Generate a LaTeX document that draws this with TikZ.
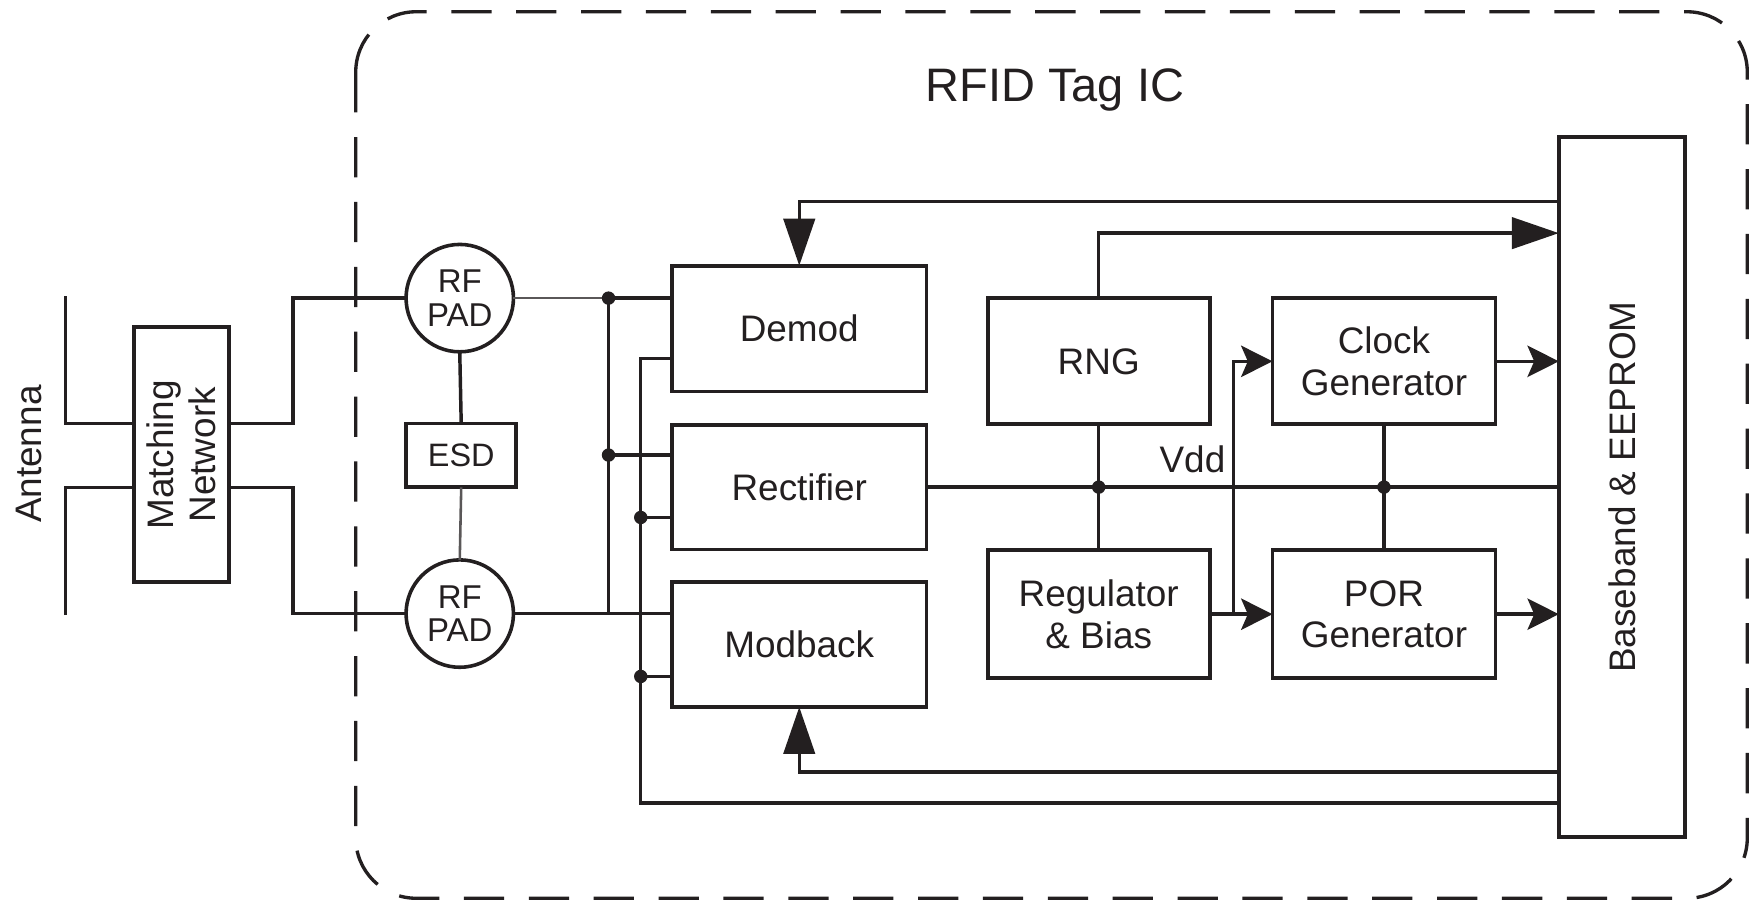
\documentclass[tikz,border=0pt]{standalone}
\usepackage{fontspec}
\setmainfont{Liberation Sans}
\usetikzlibrary{arrows.meta,calc}
\definecolor{ink}{HTML}{231F20}
\begin{document}
\begin{tikzpicture}[x=1pt,y=-1pt]
\tikzset{
 blk/.style={draw=ink, line width=3.4pt, inner sep=0pt, outer sep=0pt, font=\fontsize{33}{37}\selectfont, align=center, text=ink},
 padc/.style={circle, draw=ink, line width=3.2pt, inner sep=0pt, outer sep=0pt, minimum size=96pt, font=\fontsize{29.5}{30}\selectfont, align=center, text=ink},
 lbl/.style={inner sep=0pt, font=\fontsize{33}{37}\selectfont, align=center, text=ink},
 conn/.style={draw=ink, line width=3.1pt},
 thinconn/.style={draw=ink!75, line width=2.3pt},
 jdot/.style={circle, fill=ink, inner sep=0pt, minimum size=12pt},
 tri/.style={-{Triangle[length=42pt,width=28pt]}},
 stl/.style={-{Stealth[length=28pt,width=28pt,inset=6pt]}},
}
\useasboundingbox (0,0) rectangle (1568,807);

% IC boundary
\draw[ink, line width=3pt, dash pattern=on 36pt off 22pt, rounded corners=54pt] (318,10.5) rectangle (1562,803);
\node[lbl, font=\fontsize{42}{48}\selectfont] (title) at (943,80) {RFID Tag IC};

% blocks
\node[blk, minimum width=84.6pt, minimum height=228pt] (mn) at (162.1,406.6) {};
\node[lbl, rotate=90] (mntext) at (mn.center) {Matching\\Network};
\node[lbl, rotate=90] (ant) at (26,406) {Antenna};

\node[padc] (padA) at (411,266.5) {RF\\PAD};
\node[padc] (padB) at (411,548.5) {RF\\PAD};
\node[blk, minimum width=98pt, minimum height=57.2pt, font=\fontsize{29}{30}\selectfont] (esd) at (412.3,407.1) {ESD};

\node[blk, minimum width=227.4pt, minimum height=112.5pt] (demod) at (714.5,293.75) {Demod};
\node[blk, minimum width=227.4pt, minimum height=111.7pt] (rect) at (714.5,435.45) {Rectifier};
\node[blk, minimum width=227.4pt, minimum height=112pt] (modb) at (714.5,576) {Modback};

\node[blk, minimum width=198.4pt, minimum height=112.6pt] (rng) at (982.2,323) {RNG};
\node[blk, minimum width=198.4pt, minimum height=114.7pt] (reg) at (982.2,549.05) {Regulator\\\& Bias};
\node[blk, minimum width=199.4pt, minimum height=112.6pt] (clk) at (1237.2,323) {Clock\\Generator};
\node[blk, minimum width=199.4pt, minimum height=114.7pt] (por) at (1237.2,549.05) {POR\\Generator};

\node[blk, minimum width=113pt, minimum height=625.4pt] (bb) at (1450,435.3) {};
\node[lbl, rotate=90] (bbtext) at (bb.center) {Baseband \& EEPROM};

\node[lbl] (vdd) at (1066,411) {Vdd};

% helper coordinates
\coordinate (at1) at (58.5,265);
\coordinate (at2) at (58.5,549.8);
\coordinate (yA) at (0,378.5);
\coordinate (yB) at (0,436);
\coordinate (mx) at (261.8,0);
\coordinate (jx) at (544,0);
\coordinate (kx) at (572.8,0);
\coordinate (yR1) at (0,406.8);
\coordinate (yD2) at (0,320.6);
\coordinate (yR2) at (0,462.6);
\coordinate (yM2) at (0,604.7);
\coordinate (yTop) at (0,180.3);
\coordinate (yRng) at (0,208.4);
\coordinate (yMB) at (0,690);
\coordinate (yBot) at (0,718);
\coordinate (br) at (1102.8,549.05);

% antenna and matching network
\draw[conn] (at1) |- (mn.west |- yA);
\draw[conn] (at2) |- (mn.west |- yB);
\draw[conn] (mn.east |- yA) -| (mx |- padA.west) -- (padA.west);
\draw[conn] (mn.east |- yB) -| (mx |- padB.west) -- (padB.west);

% pads and ESD
\draw[conn] (padA.south) -- (esd.north);
\draw[thinconn] (esd.south) -- (padB.north);

% RF bus
\draw[thinconn] (padA.east) -- (jx |- padA.east);
\draw[conn] (jx |- padA.east) -- (demod.west |- padA.east);
\draw[conn] (jx |- padA.east) -- (jx |- padB.east);
\draw[conn] (jx |- yR1) -- (rect.west |- yR1);
\draw[conn] (padB.east) -- (modb.west |- padB.east);
\node[jdot] (d1) at (jx |- padA.east) {};
\node[jdot] (d2) at (jx |- yR1) {};

% baseband return bus
\draw[conn] (bb.west |- yBot) -| (kx |- yD2) -- (demod.west |- yD2);
\draw[conn] (kx |- yR2) -- (rect.west |- yR2);
\draw[conn] (kx |- yM2) -- (modb.west |- yM2);
\node[jdot] (d3) at (kx |- yR2) {};
\node[jdot] (d4) at (kx |- yM2) {};

% baseband to demod / modback
\draw[conn, tri] (bb.west |- yTop) -| (demod.north);
\draw[conn, tri] (bb.west |- yMB) -| (modb.south);

% RNG to baseband
\draw[conn, tri] (rng.north) |- (bb.west |- yRng);

% Vdd
\draw[conn] (rect.east) -- (bb.west |- rect.east);
\draw[conn] (rng.south) -- (reg.north);
\draw[conn] (clk.south) -- (por.north);
\node[jdot] (d5) at (rng.south |- rect.east) {};
\node[jdot] (d6) at (clk.south |- rect.east) {};

% regulator outputs
\draw[conn, stl] (reg.east) -- (por.west);
\draw[conn, stl] (br) |- (clk.west);

% clock / POR to baseband
\draw[conn, stl] (clk.east) -- (bb.west |- clk.east);
\draw[conn, stl] (por.east) -- (bb.west |- por.east);
\end{tikzpicture}
\end{document}
